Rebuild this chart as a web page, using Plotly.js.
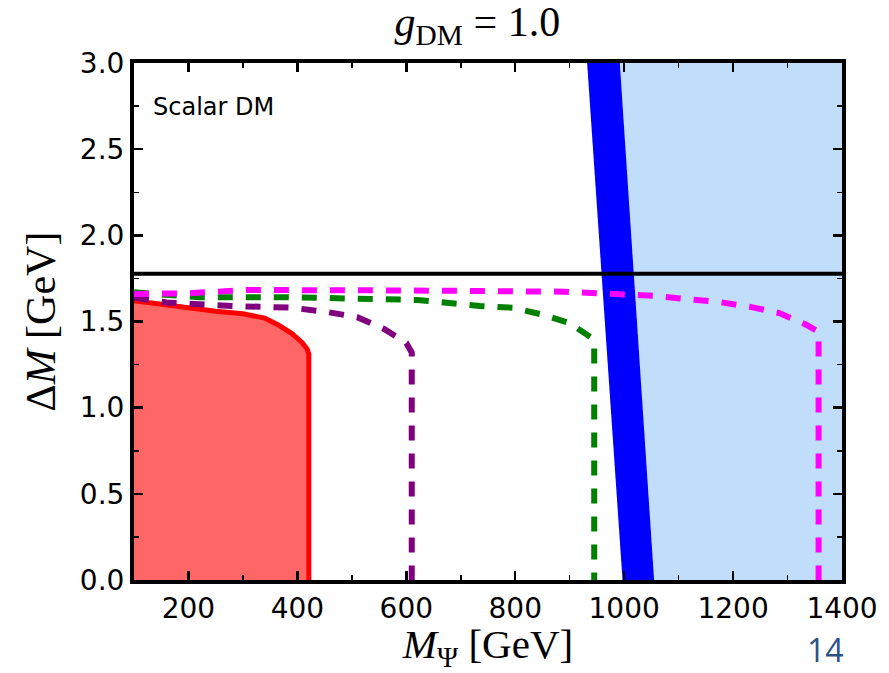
<!DOCTYPE html>
<html>
<head>
<meta charset="utf-8">
<script src="https://cdn.plot.ly/plotly-3.0.1.min.js"></script>
<style>html,body{margin:0;padding:0;background:#fff;}#plot{width:889px;height:673px;}</style>
</head>
<body>
<div id="plot"></div>
<script>
// Blue band edges (x at y=3 and y=0)
const bandY = [3.0, 0.0];
const bandLeftX = [932, 997];
const bandRightX = [992, 1055];

// Red excluded region boundary
const redX = [100, 150, 200, 250, 300, 340, 365, 390, 408, 418, 421, 421];
const redY = [1.62, 1.60, 1.575, 1.56, 1.545, 1.52, 1.48, 1.43, 1.38, 1.34, 1.31, 0.0];

// Purple dashed contour
const purpleX = [100, 160, 280, 390, 455, 510, 560, 600, 610, 610];
const purpleY = [1.64, 1.61, 1.59, 1.58, 1.555, 1.525, 1.455, 1.375, 1.32, 0.0];

// Green dashed contour
const greenX = [100, 220, 400, 620, 735, 795, 850, 900, 938, 945, 945];
const greenY = [1.67, 1.64, 1.64, 1.625, 1.59, 1.58, 1.54, 1.49, 1.41, 1.38, 0.0];

// Magenta dashed contour
const magentaX = [100, 200, 310, 540, 600, 890, 945, 1060, 1115, 1170, 1230, 1285, 1335, 1357, 1357];
const magentaY = [1.66, 1.664, 1.683, 1.683, 1.68, 1.673, 1.664, 1.648, 1.63, 1.615, 1.586, 1.549, 1.48, 1.44, 0.0];

// Horizontal line (tau mass)
const hLineY = 1.777;
const xRange = [100, 1400];
const yRange = [0, 3.0];

const xTicks = [200, 400, 600, 800, 1000, 1200, 1400];
const yTicks = [0.0, 0.5, 1.0, 1.5, 2.0, 2.5, 3.0];
const yTickText = ['0.0', '0.5', '1.0', '1.5', '2.0', '2.5', '3.0'];

const traces = [];
traces.push({
  x: [bandRightX[0], xRange[1], xRange[1], bandRightX[1]],
  y: [bandY[0], bandY[0], bandY[1], bandY[1]],
  fill: 'toself', fillcolor: '#c0ddfa', mode: 'lines', line: {width: 0}, hoverinfo: 'skip'
});
traces.push({
  x: [bandLeftX[0], bandRightX[0], bandRightX[1], bandLeftX[1]],
  y: [bandY[0], bandY[0], bandY[1], bandY[1]],
  fill: 'toself', fillcolor: '#0000ff', mode: 'lines', line: {width: 0}, hoverinfo: 'skip'
});
traces.push({
  x: redX.concat([xRange[0]]),
  y: redY.concat([0]),
  fill: 'toself', fillcolor: '#ff6666', mode: 'lines', line: {width: 0}, hoverinfo: 'skip'
});
traces.push({x: redX, y: redY, mode: 'lines', line: {color: '#ff0000', width: 5}});
const dashStyle = '15px,13px';
traces.push({x: purpleX, y: purpleY, mode: 'lines', line: {color: '#800080', width: 6, dash: dashStyle}});
traces.push({x: greenX, y: greenY, mode: 'lines', line: {color: '#008000', width: 6, dash: dashStyle}});
traces.push({x: magentaX, y: magentaY, mode: 'lines', line: {color: '#ff00ff', width: 6, dash: dashStyle}});
traces.push({x: xRange, y: [hLineY, hLineY], mode: 'lines', line: {color: '#000000', width: 4}});

const tickFont = {family: 'DejaVu Sans', size: 28, color: '#000'};
const serif = 'Liberation Serif';
const layout = {
  width: 889, height: 673,
  margin: {l: 134, r: 47, t: 63, b: 93},
  paper_bgcolor: '#fff', plot_bgcolor: '#fff',
  showlegend: false,
  title: {text: '<i>g</i><sub>DM</sub> = 1.0', font: {family: serif, size: 42, color: '#000'},
          x: 0.537, xanchor: 'center', y: 0.99, yanchor: 'top'},
  xaxis: {
    range: xRange, tickvals: xTicks, ticktext: xTicks.map(String),
    ticks: 'inside', ticklen: 9, tickwidth: 2.5, tickcolor: '#000',
    minor: {dtick: 100, ticks: 'inside', ticklen: 5, tickwidth: 1.5, tickcolor: '#000'},
    showline: true, linewidth: 4, linecolor: '#000', mirror: 'allticks',
    showgrid: false, zeroline: false, tickfont: tickFont,
    title: {text: '<i>M</i><sub>Ψ</sub> [GeV]', font: {family: serif, size: 41, color: '#000'}, standoff: 11}
  },
  yaxis: {
    range: yRange, tickvals: yTicks, ticktext: yTickText,
    ticks: 'inside', ticklen: 9, tickwidth: 2.5, tickcolor: '#000',
    minor: {dtick: 0.25, ticks: 'inside', ticklen: 5, tickwidth: 1.5, tickcolor: '#000'},
    showline: true, linewidth: 4, linecolor: '#000', mirror: 'allticks',
    showgrid: false, zeroline: false, tickfont: tickFont,
    title: {text: 'Δ<i>M</i> [GeV]', font: {family: serif, size: 42, color: '#000'}, standoff: 12}
  },
  annotations: [
    {text: 'Scalar DM', xref: 'paper', yref: 'paper', x: 0.024, y: 0.915, xanchor: 'left', yanchor: 'middle',
     showarrow: false, font: {family: 'DejaVu Sans', size: 24, color: '#000'}},
    {text: '14', xref: 'paper', yref: 'paper', x: 1.005, y: -0.135, xanchor: 'right', yanchor: 'middle',
     showarrow: false, font: {family: 'Open Sans', size: 32, color: '#2a5285'}}
  ]
};
Plotly.newPlot('plot', traces, layout, {displayModeBar: false, staticPlot: true});
</script>
</body>
</html>
